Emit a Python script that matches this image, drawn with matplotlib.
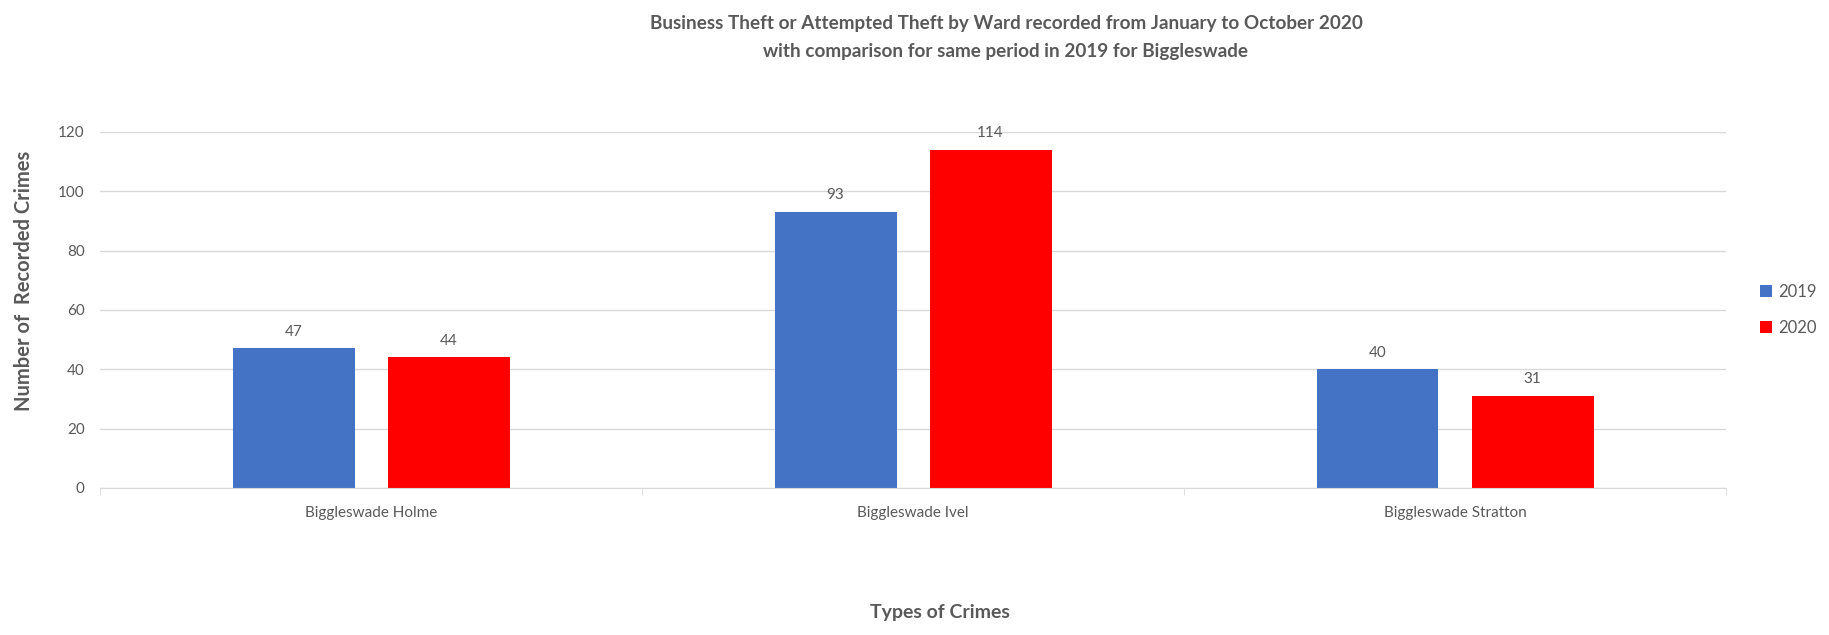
import matplotlib.pyplot as plt
import numpy as np

wards = ['Biggleswade Holme', 'Biggleswade Ivel', 'Biggleswade Stratton']
years = ['2019', '2020']
crimes_2019 = [47, 93, 40]
crimes_2020 = [44, 114, 31]

blue = '#4472C4'
red = '#FF0000'
grey = '#595959'

plt.rcParams['font.family'] = ['Lato', 'DejaVu Sans']

fig = plt.figure(figsize=(18.29, 6.35), dpi=100)
ax = fig.add_axes([0.0547, 0.2315, 0.889, 0.561])

x = np.arange(len(wards))
width = 0.225
offset = 0.143

bars_19 = ax.bar(x - offset, crimes_2019, width, color=blue, label=years[0])
bars_20 = ax.bar(x + offset, crimes_2020, width, color=red, label=years[1])

for bars in (bars_19, bars_20):
    ax.bar_label(bars, padding=7, fontsize=11, color=grey)

ax.set_xlim(-0.5, len(wards) - 0.5)
ax.set_ylim(0, 120)
ax.set_yticks(range(0, 121, 20))
ax.yaxis.grid(True, color='#D9D9D9', linewidth=1)
ax.set_axisbelow(True)

# category labels in the middle, small tick marks on the boundaries
ax.set_xticks(x)
ax.set_xticklabels(wards)
ax.set_xticks(np.arange(-0.5, len(wards), 1), minor=True)
ax.tick_params(axis='x', which='major', length=0, pad=13, labelsize=11, labelcolor=grey)
ax.tick_params(axis='x', which='minor', length=5, color='#D9D9D9')
ax.tick_params(axis='y', length=0, pad=11, labelsize=11, labelcolor=grey)

for side in ('top', 'right', 'left'):
    ax.spines[side].set_visible(False)
ax.spines['bottom'].set_color('#D9D9D9')

fig.text(0.013, 0.557, 'Number of  Recorded Crimes', rotation=90,
         ha='center', va='center', fontsize=14.5, fontweight='bold', color=grey)
fig.text(0.514, 0.022, 'Types of Crimes', ha='center', va='bottom',
         fontsize=14, fontweight='bold', color=grey)

fig.text(0.55, 0.977, 'Business Theft or Attempted Theft by Ward recorded from January to October 2020\n'
         'with comparison for same period in 2019 for Biggleswade',
         ha='center', va='top', fontsize=13.6, fontweight='bold', color=grey, linespacing=1.8)

ax.legend(loc='center left', bbox_to_anchor=(1.014, 0.5), frameon=False,
          fontsize=12, labelcolor=grey, handlelength=0.7, handleheight=0.7,
          labelspacing=1.2, handletextpad=0.35, borderaxespad=0.3)

fig.savefig('out.png', dpi=100)
